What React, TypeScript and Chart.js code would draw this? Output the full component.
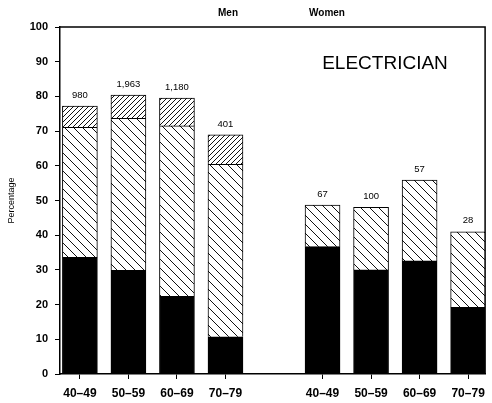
import React, { useEffect, useRef } from 'react';
import { Chart, registerables } from 'chart.js';

Chart.register(...registerables);

// ---- data ----
const ageGroups = ['40–49', '50–59', '60–69', '70–79'];
const groups = ['Men', 'Women'];
// segment heights (percentage points), stacked bottom to top
const menSolid = [33.6, 29.9, 22.4, 10.7];
const menBackHatch = [37.5, 43.8, 49.1, 49.7];
const menForwardHatch = [6.1, 6.7, 8.0, 8.5];
const womenSolid = [36.7, 30.0, 32.6, 19.2];
const womenBackHatch = [12.0, 18.0, 23.3, 21.8];
const womenForwardHatch = [0, 0, 0, 0];
const menCounts = ['980', '1,963', '1,180', '401'];
const womenCounts = ['67', '100', '57', '28'];
const yTickValues = [0, 10, 20, 30, 40, 50, 60, 70, 80, 90, 100];
const chartTitle = 'ELECTRICIAN';
const yTitle = 'Percentage';

// slots: men groups, one empty slot, women groups
const womenOffset = ageGroups.length + 1;
const slotLabels: string[] = [...ageGroups, '', ...ageGroups];

function makeHatch(spacing: number, dir: 'back' | 'fwd'): CanvasPattern | string {
  const c = document.createElement('canvas');
  c.width = spacing;
  c.height = spacing;
  const g = c.getContext('2d');
  if (!g) return '#fff';
  g.fillStyle = '#fff';
  g.fillRect(0, 0, spacing, spacing);
  g.strokeStyle = '#111';
  g.lineWidth = 1;
  g.beginPath();
  if (dir === 'back') {
    g.moveTo(-1, -1); g.lineTo(spacing + 1, spacing + 1);
    g.moveTo(-2, spacing - 2); g.lineTo(2, spacing + 2);
    g.moveTo(spacing - 2, -2); g.lineTo(spacing + 2, 2);
  } else {
    g.moveTo(-1, spacing + 1); g.lineTo(spacing + 1, -1);
    g.moveTo(-2, 2); g.lineTo(2, -2);
    g.moveTo(spacing - 2, spacing + 2); g.lineTo(spacing + 2, spacing - 2);
  }
  g.stroke();
  const p = g.createPattern(c, 'repeat');
  return p || '#fff';
}

function pts(men: number[], women: number[]) {
  const out: { x: number; y: number }[] = [];
  men.forEach((v, i) => out.push({ x: i, y: v }));
  women.forEach((v, i) => { if (v > 0) out.push({ x: womenOffset + i, y: v }); });
  return out;
}

export default function App() {
  const ref = useRef<HTMLCanvasElement | null>(null);

  useEffect(() => {
    const canvas = ref.current;
    if (!canvas) return;
    const font = '"Liberation Sans", Arial, Helvetica, sans-serif';
    const backPat = makeHatch(9, 'back');
    const fwdPat = makeHatch(5, 'fwd');

    const totals: { x: number; total: number; label: string }[] = [];
    ageGroups.forEach((_, i) => {
      totals.push({ x: i, total: menSolid[i] + menBackHatch[i] + menForwardHatch[i], label: menCounts[i] });
      totals.push({ x: womenOffset + i, total: womenSolid[i] + womenBackHatch[i] + womenForwardHatch[i], label: womenCounts[i] });
    });

    const annot = {
      id: 'annot',
      afterDraw(chart: any) {
        const ctx = chart.ctx;
        const { top, bottom, left, right } = chart.chartArea;
        const xs = chart.scales.x;
        const ys = chart.scales.y;
        ctx.save();
        // frame top & right
        ctx.strokeStyle = '#000';
        ctx.lineWidth = 1.5;
        ctx.beginPath();
        ctx.moveTo(left, top);
        ctx.lineTo(right, top);
        ctx.lineTo(right, bottom);
        ctx.stroke();
        ctx.fillStyle = '#000';
        ctx.textAlign = 'center';
        ctx.textBaseline = 'middle';
        // counts above bars
        ctx.font = `9.5px ${font}`;
        totals.forEach((t) => {
          ctx.fillText(t.label, xs.getPixelForValue(t.x), ys.getPixelForValue(t.total) - 11);
        });
        // group headers
        ctx.font = `bold 10px ${font}`;
        ctx.fillText(groups[0], 228, 13);
        ctx.fillText(groups[1], 327, 13);
        // title
        ctx.font = `19px ${font}`;
        ctx.fillText(chartTitle, 385, 64);
        // y title
        ctx.translate(12, (top + bottom) / 2);
        ctx.rotate(-Math.PI / 2);
        ctx.font = `9px ${font}`;
        ctx.fillText(yTitle, 0, 0);
        ctx.restore();
      },
    };

    const chart = new Chart(canvas, {
      type: 'bar',
      data: {
        datasets: [
          {
            label: 'solid',
            data: pts(menSolid, womenSolid),
            backgroundColor: '#000',
            borderColor: '#000',
            borderWidth: 1,
            barThickness: 35,
          },
          {
            label: 'back',
            data: pts(menBackHatch, womenBackHatch),
            backgroundColor: backPat as any,
            borderColor: '#000',
            borderWidth: 1,
            barThickness: 35,
          },
          {
            label: 'fwd',
            data: pts(menForwardHatch, womenForwardHatch),
            backgroundColor: fwdPat as any,
            borderColor: '#000',
            borderWidth: 1,
            barThickness: 35,
          },
        ],
      },
      options: {
        animation: false,
        responsive: false,
        maintainAspectRatio: false,
        layout: { padding: { top: 27, right: 5, left: 0, bottom: 0 } },
        plugins: {
          legend: { display: false },
          tooltip: { enabled: false },
        },
        scales: {
          x: {
            type: 'linear',
            stacked: true,
            offset: false,
            min: -0.41,
            max: 8.35,
            afterFit(scale: any) { scale.height = 29; },
            afterBuildTicks(scale: any) {
              scale.ticks = slotLabels
                .map((l, i) => (l ? { value: i } : null))
                .filter((t) => t !== null);
            },
            ticks: {
              autoSkip: false,
              maxRotation: 0,
              padding: 7,
              color: '#000',
              font: { family: font, size: 12, weight: 'bold' },
              callback: (v: any) => slotLabels[Number(v)] ?? '',
            },
            grid: { offset: false, drawOnChartArea: false, drawTicks: true, tickLength: 5, color: '#000', lineWidth: 1 },
            border: { display: true, color: '#000', width: 1.5 },
          },
          y: {
            type: 'linear',
            stacked: true,
            min: 0,
            max: 100,
            afterFit(scale: any) { scale.width = 60; },
            afterBuildTicks(scale: any) {
              scale.ticks = yTickValues.map((v) => ({ value: v }));
            },
            ticks: {
              padding: 7,
              color: '#000',
              font: { family: font, size: 11, weight: 'bold' },
            },
            grid: { drawOnChartArea: false, drawTicks: true, tickLength: 5, color: '#000', lineWidth: 1 },
            border: { display: true, color: '#000', width: 1.5 },
          },
        },
      } as any,
      plugins: [annot],
    });
    return () => chart.destroy();
  }, []);

  return (
    <div style={{ position: 'absolute', left: 0, top: 0, width: 492, height: 403, background: '#fff' }}>
      <canvas ref={ref} width={492} height={403} style={{ display: 'block', width: 492, height: 403 }} />
    </div>
  );
}
